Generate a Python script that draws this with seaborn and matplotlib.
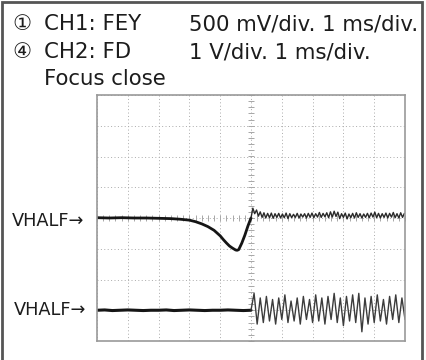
import numpy as np
import matplotlib
matplotlib.use("Agg")
import matplotlib.pyplot as plt
from matplotlib.patches import Rectangle
import seaborn as sns

# Waveform data, in divisions (x: 1 ms/div, y: div)
# CH1 (FEY) before the jump: flat, then dip
ch1_left_t = [-5.0, -4.6, -4.2, -3.8, -3.4, -3.0, -2.6, -2.3, -2.0, -1.8, -1.6, -1.4,
              -1.2, -1.0, -0.9, -0.8, -0.7, -0.6, -0.5, -0.45, -0.4, -0.3, -0.2, -0.1, 0.0]
ch1_left_v = [0.01, 0.00, 0.01, 0.00, 0.00, -0.01, -0.02, -0.04, -0.07, -0.12, -0.19, -0.28,
              -0.40, -0.58, -0.70, -0.81, -0.91, -0.98, -1.04, -1.05, -1.03, -0.82, -0.56, -0.26, 0.00]

# CH1 after the jump: small fast ripple
ch1_right_t = [0.00, 0.06, 0.12, 0.18, 0.24, 0.30, 0.36, 0.42, 0.48, 0.54, 0.60, 0.66,
               0.72, 0.78, 0.84, 0.90, 0.96, 1.02, 1.08, 1.14, 1.20, 1.26, 1.32, 1.38,
               1.44, 1.50, 1.56, 1.62, 1.68, 1.74, 1.80, 1.86, 1.92, 1.98, 2.04, 2.10,
               2.16, 2.22, 2.28, 2.34, 2.40, 2.46, 2.52, 2.58, 2.64, 2.70, 2.76, 2.82,
               2.88, 2.94, 3.00, 3.06, 3.12, 3.18, 3.24, 3.30, 3.36, 3.42, 3.48, 3.54,
               3.60, 3.66, 3.72, 3.78, 3.84, 3.90, 3.96, 4.02, 4.08, 4.14, 4.20, 4.26,
               4.32, 4.38, 4.44, 4.50, 4.56, 4.62, 4.68, 4.74, 4.80, 4.86, 4.92, 4.98]
ch1_right_v = [0.00, 0.32, 0.14, 0.26, 0.06, 0.20, 0.02, 0.17, 0.00, 0.15, 0.01, 0.16,
               -0.01, 0.14, 0.02, 0.15, 0.00, 0.13, 0.01, 0.16, -0.02, 0.14, 0.01, 0.12,
               0.02, 0.15, 0.00, 0.13, 0.03, 0.14, 0.00, 0.15, 0.02, 0.16, 0.01, 0.14,
               0.03, 0.18, 0.02, 0.15, 0.04, 0.17, 0.01, 0.20, 0.03, 0.22, 0.05, 0.19,
               -0.02, 0.14, 0.02, 0.16, -0.03, 0.13, 0.01, 0.15, 0.00, 0.17, 0.02, 0.14,
               0.00, 0.13, 0.02, 0.15, 0.01, 0.16, 0.03, 0.19, 0.01, 0.15, 0.00, 0.14,
               0.02, 0.16, 0.00, 0.15, 0.03, 0.18, 0.01, 0.14, 0.00, 0.17, 0.02, 0.15]

# CH2 (FD) before the jump: flat
ch2_left_t = [-5.0, -4.75, -4.5, -4.25, -4.0, -3.75, -3.5, -3.25, -3.0, -2.75, -2.5,
              -2.25, -2.0, -1.75, -1.5, -1.25, -1.0, -0.75, -0.5, -0.25, 0.0]
ch2_left_v = [-3.00, -2.99, -3.01, -3.00, -2.99, -3.00, -3.01, -3.00, -3.00, -2.99, -3.01,
              -3.00, -2.99, -3.00, -3.01, -3.00, -3.00, -2.99, -3.00, -3.01, -3.00]

# CH2 after the jump: large oscillation
ch2_right_t = [0.0, 0.1, 0.2, 0.3, 0.4, 0.5, 0.6, 0.7, 0.8, 0.9, 1.0, 1.1, 1.2, 1.3,
               1.4, 1.5, 1.6, 1.7, 1.8, 1.9, 2.0, 2.1, 2.2, 2.3, 2.4, 2.5, 2.6, 2.7,
               2.8, 2.9, 3.0, 3.1, 3.2, 3.3, 3.4, 3.5, 3.6, 3.7, 3.8, 3.9, 4.0, 4.1,
               4.2, 4.3, 4.4, 4.5, 4.6, 4.7, 4.8, 4.9, 5.0]
ch2_right_v = [-3.0, -2.45, -3.45, -2.6, -3.4, -2.55, -3.35, -2.65, -3.45, -2.6, -3.3,
               -2.5, -3.4, -2.7, -3.35, -2.6, -3.45, -2.55, -3.3, -2.65, -3.4, -2.5,
               -3.35, -2.6, -3.45, -2.55, -3.3, -2.45, -3.4, -2.6, -3.5, -2.55, -3.35,
               -2.5, -3.4, -2.45, -3.7, -2.6, -3.45, -2.55, -3.4, -2.5, -3.35, -2.65,
               -3.45, -2.55, -3.3, -2.5, -3.4, -2.6, -3.3]

header_rows = [("\u2460", "CH1: FEY", "500 mV/div. 1 ms/div."),
               ("\u2463", "CH2: FD", "1 V/div. 1 ms/div.")]
note_text = "Focus close"
marker_text = "VHALF\u2192"

sns.set_style("white")
plt.rcParams['font.family'] = ['DejaVu Sans', 'Noto Sans CJK JP']

fig = plt.figure(figsize=(4.26, 3.6), dpi=100)
ax = fig.add_axes([97 / 426, 19 / 360, 308 / 426, 246 / 360])

trace_dark = "#151515"
sns.lineplot(x=ch1_left_t, y=ch1_left_v, ax=ax, color=trace_dark, lw=2.0,
             estimator=None, sort=False)
sns.lineplot(x=ch1_right_t, y=ch1_right_v, ax=ax, color="#2a2a2a", lw=1.0,
             estimator=None, sort=False)
sns.lineplot(x=ch2_left_t, y=ch2_left_v, ax=ax, color=trace_dark, lw=2.2,
             estimator=None, sort=False)
sns.lineplot(x=ch2_right_t, y=ch2_right_v, ax=ax, color="#3c3c3c", lw=1.0,
             estimator=None, sort=False)

ax.set_xlim(-5, 5)
ax.set_ylim(-4, 4)
ax.set_xticks(range(-5, 6))
ax.set_yticks(range(-4, 5))
ax.grid(True, ls=(0, (1, 2.5)), color="#aaaaaa", lw=0.7)
ax.tick_params(length=0, labelbottom=False, labelleft=False)
ax.set_xlabel("")
ax.set_ylabel("")
for sp in ax.spines.values():
    sp.set_color("#9a9a9a")
    sp.set_linewidth(1.2)

# center graticule with minor ticks
sec_y = ax.secondary_yaxis(0.5)
sec_y.set_yticks(np.arange(-4, 4.01, 0.2))
sec_y.tick_params(direction="inout", length=4, width=0.6, color="#999999",
                  labelleft=False, labelright=False)
sec_y.spines["left"].set_visible(False)
sec_y.spines["right"].set_visible(False)
sec_x = ax.secondary_xaxis(0.5)
sec_x.set_xticks(np.arange(-5, 5.01, 0.2))
sec_x.tick_params(direction="inout", length=4, width=0.6, color="#999999",
                  labelbottom=False, labeltop=False)
sec_x.spines["bottom"].set_visible(False)
sec_x.spines["top"].set_visible(False)

txt = "#1c1c1c"
fs = 15.3
for i, (num, name, scale) in enumerate(header_rows):
    yb = 1 - (30 + 28 * i) / 360
    fig.text(12 / 426, yb, num, fontsize=fs, color=txt, va="baseline")
    fig.text(44 / 426, yb, name, fontsize=fs, color=txt, va="baseline")
    fig.text(189 / 426, yb, scale, fontsize=fs, color=txt, va="baseline")
fig.text(44 / 426, 1 - 85 / 360, note_text, fontsize=fs, color=txt, va="baseline")

fig.text(12 / 426, 1 - 226 / 360, marker_text, fontsize=12.8, color=txt, va="baseline")
fig.text(14 / 426, 1 - 315 / 360, marker_text, fontsize=12.8, color=txt, va="baseline")

fig.add_artist(Rectangle((1.5 / 426, -0.01), 420.5 / 426, 1.0 - 1.5 / 360 + 0.01,
                         transform=fig.transFigure, fill=False, ec="#555555", lw=2))

fig.savefig("out.png", dpi=100)
